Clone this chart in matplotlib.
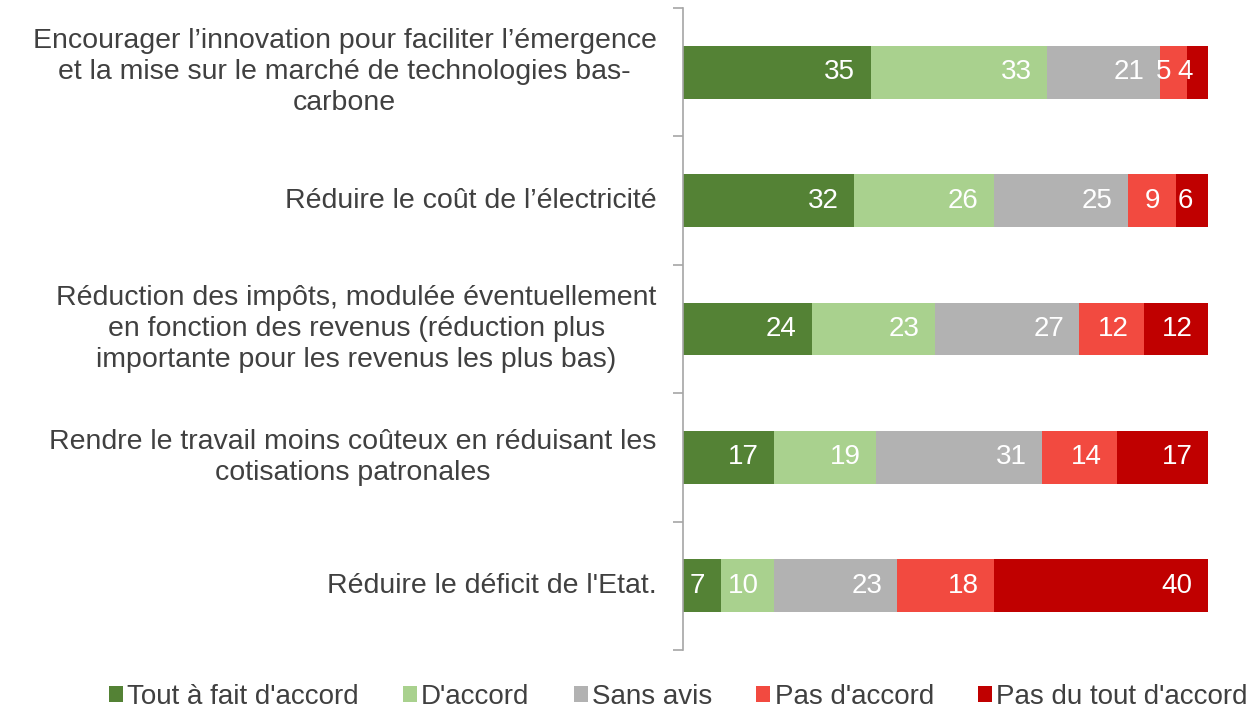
import matplotlib.pyplot as plt
import numpy as np

plt.rcParams['font.family'] = ['Liberation Sans', 'DejaVu Sans']

# categories (top to bottom)
categories = [
    "Encourager l’innovation pour faciliter l’émergence\net la mise sur le marché de technologies bas-\ncarbone",
    "Réduire le coût de l’électricité",
    "Réduction des impôts, modulée éventuellement\nen fonction des revenus (réduction plus\nimportante pour les revenus les plus bas)",
    "Rendre le travail moins coûteux en réduisant les\ncotisations patronales",
    "Réduire le déficit de l'Etat.",
]
series_names = ["Tout à fait d'accord", "D'accord", "Sans avis", "Pas d'accord", "Pas du tout d'accord"]
tout_a_fait = [35, 32, 24, 17, 7]
d_accord = [33, 26, 23, 19, 10]
sans_avis = [21, 25, 27, 31, 23]
pas_accord = [5, 9, 12, 14, 18]
pas_du_tout = [4, 6, 12, 17, 40]

couleurs = ['#548235', '#A9D18E', '#B2B2B2', '#F24A40', '#C00000']
GRIS_TEXTE = '#404040'

valeurs = np.array([tout_a_fait, d_accord, sans_avis, pas_accord, pas_du_tout], dtype=float)
pourcent = valeurs / valeurs.sum(axis=0) * 100  # barres empilees a 100 %

fig = plt.figure(figsize=(12.56, 7.15), dpi=100)
ax = fig.add_axes([683 / 1256, 1 - 650 / 715, (1208 - 683) / 1256, (650 - 8) / 715])

y = np.arange(len(categories))
gauche = np.zeros(len(categories))
for i, nom in enumerate(series_names):
    barres = ax.barh(y, pourcent[i], left=gauche, height=0.41, color=couleurs[i], label=nom)
    for j, b in enumerate(barres):
        ax.annotate(str(int(valeurs[i][j])), xy=(gauche[j] + pourcent[i][j], y[j]),
                    xytext=(-11, 0), textcoords='offset points',
                    ha='right', va='center', color='white', fontsize=20)
    gauche += pourcent[i]

ax.set_xlim(0, 100)
ax.set_ylim(len(categories) - 0.5, -0.5)
ax.set_xticks([])
for s in ['top', 'right', 'bottom']:
    ax.spines[s].set_visible(False)
ax.spines['left'].set_color('#A6A6A6')
ax.spines['left'].set_linewidth(1.2)

# traits de separation entre categories
ax.set_yticks(np.arange(len(categories) + 1) - 0.5)
ax.set_yticklabels([])
ax.tick_params(axis='y', length=7, color='#A6A6A6', width=1.2)

for j, cat in enumerate(categories):
    ax.annotate(cat, xy=(0, y[j]), xytext=(-19, 0), textcoords='offset points',
                ha='right', va='center', multialignment='center',
                fontsize=20.5, color=GRIS_TEXTE, linespacing=1.25)

leg = fig.legend(loc='lower center', bbox_to_anchor=(0.54, -0.028), ncol=5, frameon=False,
                 fontsize=20, handlelength=0.5, handleheight=0.5, handletextpad=0.15,
                 columnspacing=1.6)
for t in leg.get_texts():
    t.set_color(GRIS_TEXTE)

fig.savefig('out.png', dpi=100)
